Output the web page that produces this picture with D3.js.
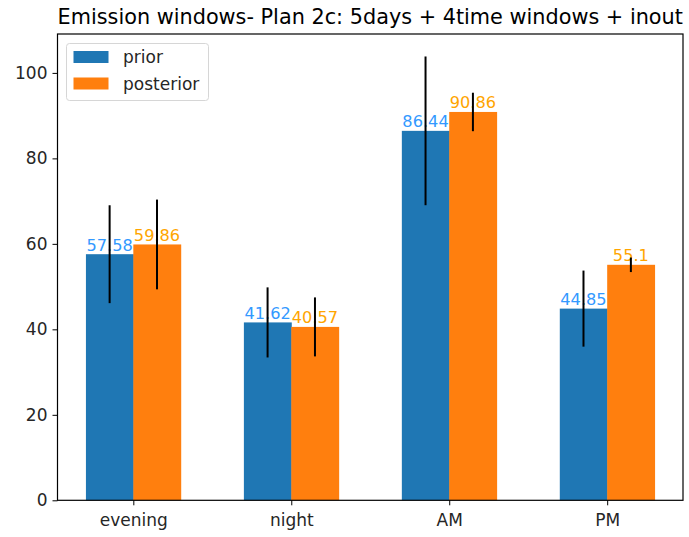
<!DOCTYPE html>
<html>
<head>
<meta charset="utf-8">
<script src="https://cdn.jsdelivr.net/npm/d3@7"></script>
<style>
  body { margin: 0; background: #fff; }
  svg { font-family: "DejaVu Sans", sans-serif; }
</style>
</head>
<body>
<svg width="689" height="537"></svg>
<script>
// chart values
const categories = ["evening", "night", "AM", "PM"]
const priorVals = [57.58, 41.62, 86.44, 44.85]
const posteriorVals = [59.86, 40.57, 90.86, 55.1]
const priorErr = [11.45, 8.2, 17.4, 8.9]
const posteriorErr = [10.5, 6.9, 4.5, 1.7]
const yTicks = [0, 20, 40, 60, 80, 100]

const svg = d3.select("svg")
const mLeft = 57.5, mRight = 683, mTop = 34, mBottom = 500.3
const barW = 0.3
const fs = "17px"

// x: category index as number, same as matplotlib
const x = d3.scaleLinear().domain([-0.48, 3.48]).range([mLeft, mRight])
const y = d3.scaleLinear().domain([0, 109.1]).range([mBottom, mTop])

const series = [
    {name: "prior", vals: priorVals, err: priorErr, off: -barW / 2, color: "#1f77b4", label: "#3399ff"},
    {name: "posterior", vals: posteriorVals, err: posteriorErr, off: barW / 2, color: "#ff7f0e", label: "#ffa500"}
]

series.forEach(s => {
    const g = svg.append("g")
    g.selectAll("rect")
        .data(s.vals).enter()
        .append("rect")
        .attr("x", (d, i) => x(i + s.off - barW / 2))
        .attr("width", x(barW) - x(0) + 0.5)
        .attr("y", d => y(d))
        .attr("height", d => y(0) - y(d))
        .attr("fill", s.color)
})

// value labels
series.forEach(s => {
    svg.append("g").selectAll("text")
        .data(s.vals).enter()
        .append("text")
        .attr("x", (d, i) => x(i + s.off))
        .attr("y", d => y(d) - 3.5)
        .attr("text-anchor", "middle")
        .attr("font-size", "16.2px")
        .attr("fill", s.label)
        .text(d => d)
})

// error bars
series.forEach(s => {
    svg.append("g").selectAll("line")
        .data(s.vals).enter()
        .append("line")
        .attr("x1", (d, i) => x(i + s.off))
        .attr("x2", (d, i) => x(i + s.off))
        .attr("y1", (d, i) => y(d + s.err[i]))
        .attr("y2", (d, i) => y(d - s.err[i]))
        .attr("stroke", "#000")
        .attr("stroke-width", 2)
})

// axes
const yAxis = d3.axisLeft(y).tickValues(yTicks).tickSize(5).tickPadding(5)
const ga = svg.append("g").attr("transform", `translate(${mLeft},0)`).call(yAxis)
const xAxis = d3.axisBottom(x).tickValues(d3.range(categories.length))
    .tickFormat(i => categories[i]).tickSize(5).tickPadding(6)
const gx = svg.append("g").attr("transform", `translate(0,${mBottom})`).call(xAxis)

;[ga, gx].forEach(g => {
    g.select(".domain").remove()
    g.selectAll("text").attr("font-size", fs).attr("fill", "#262626")
        .attr("font-family", "DejaVu Sans, sans-serif")
    g.selectAll("line").attr("stroke", "#000").attr("stroke-width", 1)
})
gx.selectAll("text").attr("dy", "0.85em")

// frame
svg.append("rect")
    .attr("x", mLeft).attr("y", mTop)
    .attr("width", mRight - mLeft).attr("height", mBottom - mTop)
    .attr("fill", "none").attr("stroke", "#000").attr("stroke-width", 1.2)

// legend
const lg = svg.append("g")
lg.append("rect")
    .attr("x", 66.5).attr("y", 43.5).attr("width", 142).attr("height", 57)
    .attr("rx", 3).attr("fill", "#fff").attr("fill-opacity", 0.8)
    .attr("stroke", "#d6d6d6")
series.forEach((s, i) => {
    lg.append("rect")
        .attr("x", 73.5).attr("y", 51 + i * 26.5).attr("width", 35).attr("height", 12)
        .attr("fill", s.color)
    lg.append("text")
        .attr("x", 123).attr("y", 63 + i * 26.5)
        .attr("font-size", fs).attr("fill", "#262626")
        .text(s.name)
})

// title
svg.append("text")
    .attr("x", (mLeft + mRight) / 2).attr("y", 24)
    .attr("text-anchor", "middle")
    .attr("font-size", "20.8px").attr("fill", "#000")
    .text("Emission windows- Plan 2c: 5days + 4time windows + inout")
</script>
</body>
</html>
